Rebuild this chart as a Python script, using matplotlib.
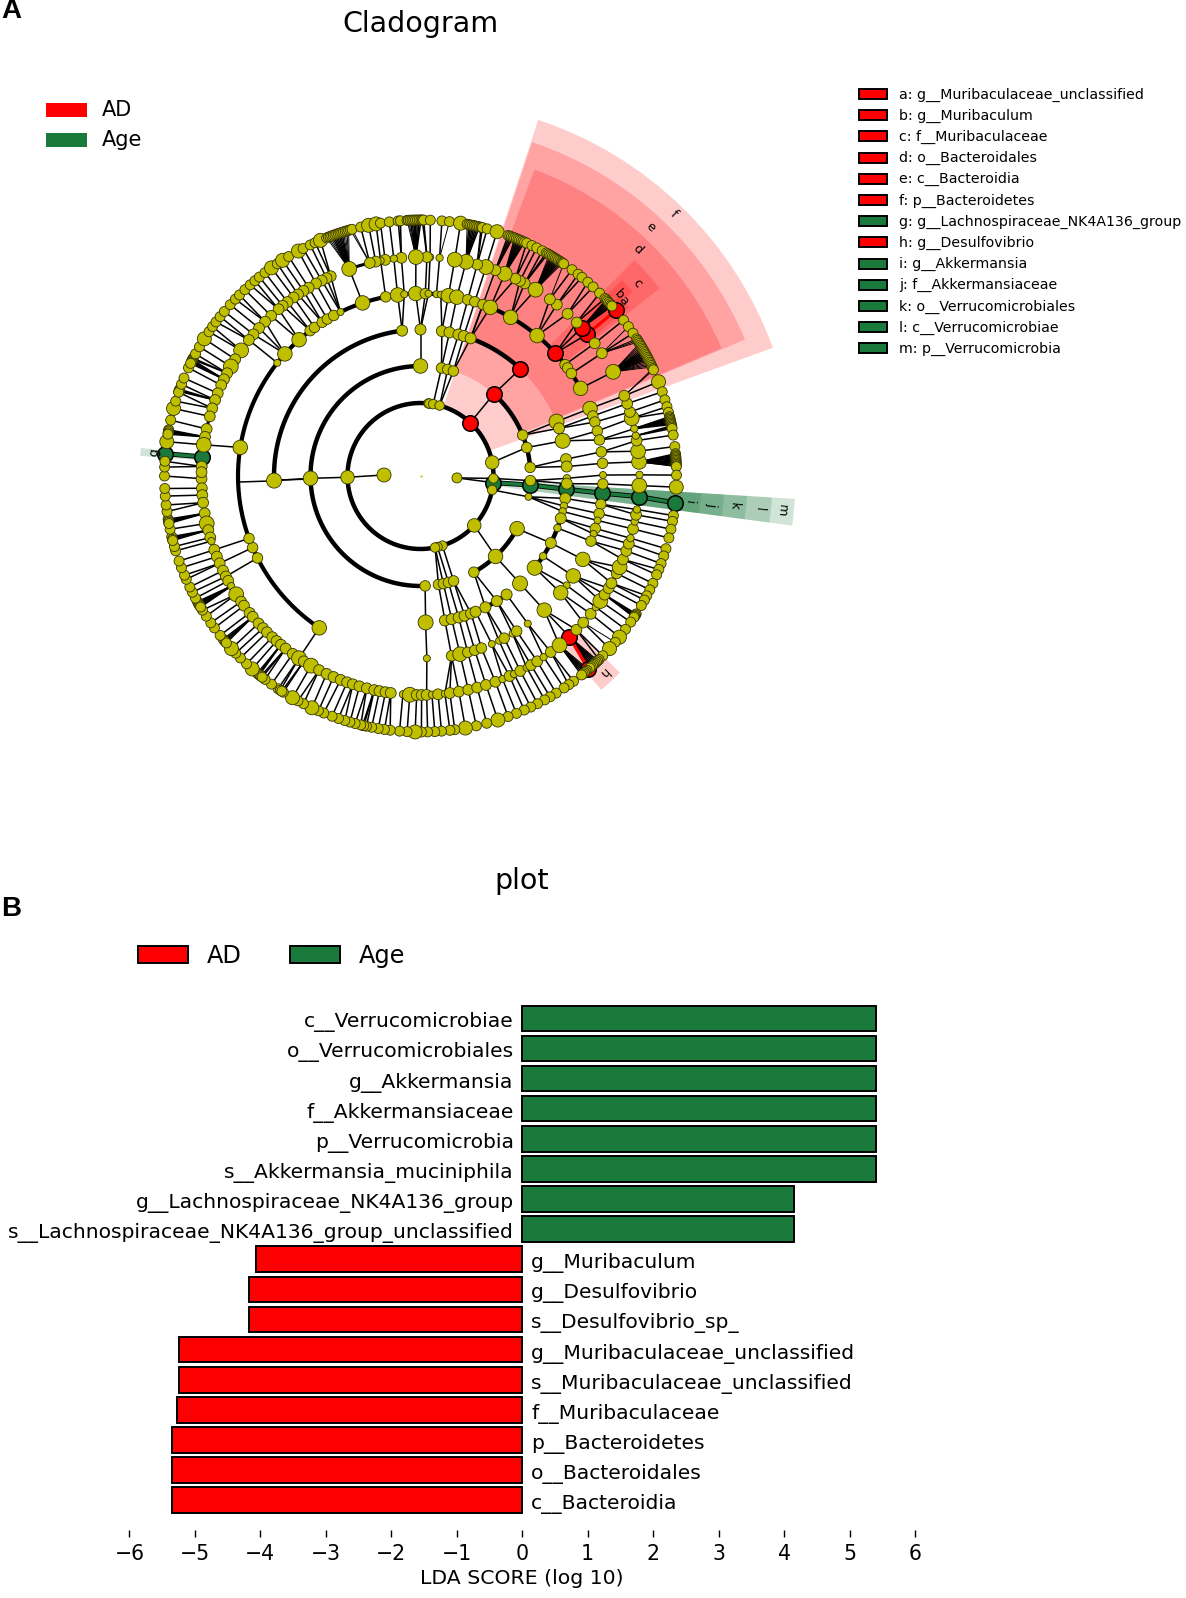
import numpy as np
import matplotlib
matplotlib.use("Agg")
import matplotlib.pyplot as plt
from matplotlib.patches import Rectangle

RED = "#ff0000"
GREEN = "#1a7a3c"
YELLOW = "#bfbf00"

# ---- cladogram data: node angles in degrees on each taxonomic ring ----
ring_radius = [36.5, 73, 110, 146.5, 182.5, 219, 256]

kingdom = [178.4, -3]
phylum = [181, 83.7, 83, 80, 74.8, 47, 10.7, -1.9, -5.2, -11, -42.6, 287.5, 283.5, 281.5]
klass = [90, 181.2, 272.4, 79, 75.7, 72.6, 48.2, 21.8, 15, 4.5, -2.4, -4.7, -10.9, -28.6, -47, -61,
         279.4, 282, 284.7, 287.5]
order = [181.8, 97.2, 90, 272, 81.6, 78.6, 75, 72.8, 70, 47, 21.8, 19, 13.9, 6.6, 3.7, -0.9, -3, -5.2,
         -8.8, -11.8, -14, -16.8, -20.8, -27.2, -33.2, -38.8, -47.2, 279.6, 282.3, 285.1, 287.5, 290.2,
         292.1, 296.3, 301.4, 306]
family = [236.3, 206.7, 203.1, 200, 171, 141.7, 138, 131.7, 127.2, 125.5, 122.6, 120.7, 118.4, 116,
          108.5, 101, 97.2, 95.1, 91.5, 88.5, 87.5, 85, 83.6, 81.2, 78.5, 75, 72.7, 70, 67.5, 60.4,
          50.3, 42.3, 37.6, 36.3, 34.2, 28.7, 21.7, 19.2, 17.2, 14.3, 11.4, 7.6, 4, 0.3, -2.5, -5.4,
          -8.9, -11.9, -14.1, -16.7, -18.5, -20.9, -27.2, -33.2, -36.8, -39.8, -47.3, 272, 279.8,
          282.5, 285, 287.3, 289.5, 293, 295.5, 297.3, 300.3, 301.8, 306]
genus = [180.7, 183.2, 185, 187, 189.8, 192.5, 194.3, 196.3, 197.3, 199.7, 201.6, 203.5, 205.6, 207.3,
         208.6, 210.2, 212.7, 215, 216.3, 218.7, 220, 222.3, 224, 225.5, 227.4, 228.9, 230.4, 232,
         234.3, 236.3, 237.8, 240, 242.4, 244.6, 246.6, 248.6, 250.4, 252, 253.8, 255.8, 257.8, 259.2,
         260.8, 262.2, 265.4, 267.2, 269, 270.3, 271.6, 273, 274.6, 276.4, 277.7, 280.1, 282.6, 285,
         287.4, 290, 292, 294, 295.3, 297.1, 299, 300.3, 302.2, 304.2, 306.5, 309.4, -47.2, 315.4, 318,
         321, 323.2, 325.2, 327.2, 329.2, 330.7, 333.6, 335.4, 337.6, 340, 342, 343.5, 346, 348, 349.8,
         351.2, -5.4, 357.5, 0.3, 3.7, 6.5, 9.3, 10.6, 12.5, 15.3, 17, 19.3, 21.5, 28.4, 34.1, 37.3,
         40.4, 42.6, 44.5, 47.8, 51.5, 53.8, 58.3, 61.6, 63, 64.3, 67.4, 70, 72.6, 75, 78, 81, 85, 87.5,
         88.3, 91.2, 95, 97, 99.3, 100.5, 101.8, 103.4, 109, 114.2, 115.4, 116.8, 118.5, 120.7, 122.3,
         124, 125.4, 127.4, 129, 130.4, 133, 135.2, 137.5, 139.7, 141.6, 145, 147.8, 150, 152, 153.8,
         155.5, 157.8, 159.7, 162, 164.2, 167.6, 169.7, 171.8, 175, 177.5, 179]
species = [175, 172.3, 170, 169.6, 169.9, 170.3, 170.6, 167.4, 164.7, 163, 160.7, 160.2, 160.5, 160.9,
           159, 157.5, 155, 153, 152.6, 152.9, 153.3, 153.6, 153.9, 151.5, 149.7, 147.6, 145.7, 144.3,
           143, 141.5, 140, 138, 136.3, 135, 133.3, 131.7, 130.3, 129, 127.4, 125.6, 124, 122.6, 121,
           118.5, 117.3, 115.5, 114.3, 113,
           111.5, 111.1, 110.7, 110.3, 109.9, 109.5, 109.1, 108.7, 108.3, 107.9, 107.5, 107.1, 106.7,
           106.3, 105.9, 105.5, 103.5, 101.7, 100, 99, 97, 95, 94.5, 93,
           92.7, 92.3, 91.9, 91.5, 91.1, 90.7, 90.3, 89.9, 89.6, 89.3,
           87.8, 85.2, 83.5, 81, 79.5, 79.1, 78.7, 78.3, 77.9, 77.5, 77.1, 76.7, 76.3, 76, 74.9, 72.6,
           70, 69.6, 69.2, 68.8, 68.4, 68, 67.6, 67.2, 66.8, 66.4, 66, 65.5, 64.2, 63, 61.6,
           60.6, 60.2, 59.8, 59.4, 59, 58.6, 58.2, 57.8, 57.4, 57, 56.6, 56.3, 56,
           53.7, 52, 50.9, 49.2, 47.6, 45.6, 43.9, 43.5, 43.1, 42.7, 42.3, 41.9, 41.6, 40.3, 37.5, 35.7,
           33.9, 32.4,
           32, 31.6, 31.2, 30.8, 30.4, 30, 29.6, 29.2, 28.8, 28.4, 28, 27.6, 27.2, 26.8, 26.4, 26, 25.6,
           25.2, 24.8, 24.5, 21.6, 19.2, 17.3, 15.7, 14.4,
           13.4, 13.1, 12.8, 12.5, 12.2, 11.9, 11.6, 11.3, 11, 10.7, 9.2, 6.6,
           5, 4.7, 4.4, 4.1, 3.8, 3.5, 3.2, 2.9, 2.6, 2.3, 2.1, 0.2, -2.5, -6, -8.9, -10.2, -12, -14,
           -16.5, -18.2, -20, -21.4, -22.7, -24.8, -26.4, -27.9, -29, -30.4, -32.6, -32.9, -33.2, -33.5,
           -34.8, -36.8, -39, -40.5, -42.4, -44.6, -45.8, -46.2, -46.6, -47, -47.4, -47.8, -48.2, -48.6,
           -49, -49.4, -49.8, -50.2, -50.6, -51, -53.3, -54.6, -55.9, -58, -59.6, -61, -62.8, -64.5,
           -66.1, -68, -70, -72.4, -75, -77.4, -79.9, -82.3, -83.4, -85.3, -86.8, -88.4, -89.8,
           268.8, 267, 265.3, 263.2, 261.9, 260.5, 259, 257.8, 256.9, 257.2, 256.5, 255.2, 254, 252.8,
           251.3, 249.8, 247.8, 246.5, 244.9, 242.8, 241.4, 240, 237.6, 236.2, 236.8, 237.2, 234.4,
           232.6, 230.7, 230.4, 231, 231.4, 231.8, 228.9, 227.2, 225.3, 223.8, 222.4, 220, 219.6, 220.3,
           220.7, 218.5, 216.4, 215, 213.2, 211.6, 209.9, 209.4, 209.7, 210.2, 210.5, 210.8, 208.5, 207,
           205.7, 203.8, 202.8, 201, 199.4, 197, 196, 194, 193.7, 194.3, 194.6, 192, 190.3, 189.7, 190,
           190.4, 190.7, 188, 186.5, 184.5, 182.8, 180, 178, 176.7]

# which nodes are larger or smaller than the usual size on each ring
kingdom_big = [178.4]
phylum_big = [181, 10.7, -42.6]
klass_big = [181.2, -28.6, -47, 90]
klass_small = [-10.9]
order_big = [181.8, -47.2, -38.8, 272, 13.9, 21.8]
order_small = [-0.9, -33.2, -20.8, -14, -11.8]
genus_big = [109, 67.4, 28.4, 91.2, 58.3, 145, 212.7, 309.4, 78, 81, 72.6, 219.7, 192.5, 236.3, 175,
             171.8, 15.3, 335.4, 325.2, 6.5, 357.5, 150, 267.2, 240, 3.7]
genus_small = [97, 100.5, 87.5, 85, 0.3, 351.2, 348, 299, 295.3, 292, 304.2, 343.5, 265.4, 197.3, 210.2,
               273, 276.4, 323.2, 10.6, 12.5, 281]
species_big = [118.5, 122.6, 101.7, 100, 113, 125.6, 172.3, 164.7, 147.6, 81, -2.5, -79.9, -72.4, -42.4,
               -39, 21.6, 244.9, 240, 228.9, 222.4, 222.4, 268.8, 253, 72.6]
family_big = [171, 108.5, 236.3, 131.7, 138, 91.5, 97.2, 28.7, 67.5, 60.4, 50.3, 21.7, -27.2, -39.8, -47.3,
              -33.2, 78.5, 81.2, 282.5]
family_small = [141.7, 116, 95.1, 85, 83.6, 87.5, 0.3, 272, -36.8, 293, 295.5, -18.5, -14.1, 306, 300.3]
# family nodes that sit on a long genus arc and send out one branch only
one_branch = [171, 236.3, 272, 200, 203.1, 206.7, 141.7, 108.5, 101]

# thick arcs along the rings, (ring index, from, to)
ring_arcs = [(1, 0, 360), (2, 90, 272.4), (2, 15, 48.2), (2, 4.5, 15), (2, -61, -28.6), (2, 72.6, 79),
             (3, 97.2, 181.8), (3, 47, 70), (3, -38.8, -8.8), (3, 292.1, 306), (3, 13.9, 21.8), (3, 3.7, 6.6),
             (4, 101, 236.3), (4, 28.7, 67.5), (4, 88.5, 97.2), (4, 83.6, 87.5),
             (5, 99.3, 109), (5, 146, 197.5), (5, 212, 262.5), (5, 265, 298), (5, -50, -45), (5, -34, -26)]
# branch stems with no node at the arc end, (inner ring index, angle)
ring_stems = [(3, 181.9), (2, 181.6), (3, 70)]

red_nodes = {1: [47], 2: [48.2], 3: [47], 4: [42.3], 5: [40.4, 42.6, -47.2], 6: [40.3, -49]}
green_nodes = {1: [-5.2], 2: [-4.7], 3: [-5.2], 4: [-5.4], 5: [-5.4, 175], 6: [-6, 175]}

# highlighted sectors: letter, from, to, inner radius, outer radius, label radius, label angle
sector_letter = ["f", "e", "d", "c", "b", "a", "h", "g", "m", "l", "k", "j", "i"]
sector_from = [20.0, 22.8, 23.0, 38.1, 41.0, 38.9, -49.8, 174.3, -7.6, -7.6, -7.6, -7.6, -7.6]
sector_to = [71.7, 71.5, 69.6, 45.3, 44.2, 42.0, -44.6, 175.9, -3.5, -3.5, -3.5, -3.5, -3.5]
sector_in = [75, 110, 146, 182, 219, 219, 219, 219, 75, 110, 146, 182, 219]
sector_out = [375, 352, 327, 304, 281, 268, 280, 281, 375, 352, 327, 304, 281]
label_r = [364, 339, 314, 290, 269, 268.6, 268, 267, 363, 340, 315, 292, 270]
label_a = [46, 47.2, 46.2, 41.7, 42.5, 40.8, -47.1, 175, -5.5, -5.5, -5.5, -5.5, -5.5]
sector_kind = ["AD"] * 7 + ["Age"] * 6

clade_legend = ["a: g__Muribaculaceae_unclassified", "b: g__Muribaculum", "c: f__Muribaculaceae",
                "d: o__Bacteroidales", "e: c__Bacteroidia", "f: p__Bacteroidetes",
                "g: g__Lachnospiraceae_NK4A136_group", "h: g__Desulfovibrio", "i: g__Akkermansia",
                "j: f__Akkermansiaceae", "k: o__Verrucomicrobiales", "l: c__Verrucomicrobiae",
                "m: p__Verrucomicrobia"]
clade_legend_kind = ["AD"] * 6 + ["Age", "AD"] + ["Age"] * 5

# ---- LDA bars, top to bottom ----
taxa = ["c__Verrucomicrobiae", "o__Verrucomicrobiales", "g__Akkermansia", "f__Akkermansiaceae",
        "p__Verrucomicrobia", "s__Akkermansia_muciniphila", "g__Lachnospiraceae_NK4A136_group",
        "s__Lachnospiraceae_NK4A136_group_unclassified", "g__Muribaculum", "g__Desulfovibrio",
        "s__Desulfovibrio_sp_", "g__Muribaculaceae_unclassified", "s__Muribaculaceae_unclassified",
        "f__Muribaculaceae", "p__Bacteroidetes", "o__Bacteroidales", "c__Bacteroidia"]
lda = [5.41, 5.41, 5.41, 5.41, 5.41, 5.41, 4.15, 4.15, -4.07, -4.18, -4.18, -5.25, -5.25, -5.28, -5.35,
       -5.35, -5.35]
xticks = [-6, -5, -4, -3, -2, -1, 0, 1, 2, 3, 4, 5, 6]

W, H = 1186, 1598
fig = plt.figure(figsize=(W / 100, H / 100), dpi=100)
kind_color = {"AD": RED, "Age": GREEN}


def nearest(a, pool):
    pool = np.asarray(pool, dtype=float)
    d = np.abs((pool - a + 180) % 360 - 180)
    i = d.argmin()
    return pool[i], d[i]


# cladogram axes, polar, centred on the middle of the tree
cx, cy, rmax = 420.5, 476, 400
ax = fig.add_axes([(cx - rmax) / W, (H - cy - rmax) / H, 2 * rmax / W, 2 * rmax / H], projection="polar")
ax.set_rlim(0, rmax)
ax.set_axis_off()

for i in range(len(sector_letter)):
    c = kind_color[sector_kind[i]]
    mid, wid = (sector_from[i] + sector_to[i]) / 2, sector_to[i] - sector_from[i]
    ax.bar(np.radians(mid), sector_out[i] - sector_in[i], width=np.radians(wid), bottom=sector_in[i],
           color=c, alpha=0.2, linewidth=0, zorder=1)
    ax.text(np.radians(label_a[i]), label_r[i], sector_letter[i], rotation=label_a[i] - 90, fontsize=9,
            ha="center", va="center", rotation_mode="anchor", zorder=8)

rings = [kingdom, phylum, klass, order, family, genus, species]
arc_width = {1: 3.2, 2: 3.2, 3: 3.2, 4: 3.0, 5: 2.2}
limits = {1: 9, 2: 9, 3: 9, 4: 9, 5: 16, 6: 30}

# thin links between rings
for k in range(1, 7):
    for a in rings[k]:
        p, d = nearest(a, rings[k - 1])
        if ring_radius[k] * np.radians(d) > limits[k]:
            continue
        if k == 5 and p in one_branch and nearest(p, rings[5])[0] != a:
            continue
        lw = 1.1 if k < 6 or d < 1.5 else 0.7
        ax.plot(np.radians([p, a]), [ring_radius[k - 1], ring_radius[k]], color="k", lw=lw, zorder=2,
                solid_capstyle="butt")

for k, a0, a1 in ring_arcs:
    th = np.radians(np.linspace(a0, a1, 200))
    ax.plot(th, np.full(th.shape, ring_radius[k]), color="k", lw=arc_width[k], zorder=3, solid_capstyle="round")

for k, a in ring_stems:
    ax.plot(np.radians([a, a]), [ring_radius[k], ring_radius[k + 1]], color="k", lw=1.1, zorder=2)

# coloured chains sit under the yellow nodes
green_chain = [-5.2, -4.7, -5.2, -5.4, -5.4, -6]
for lw, c in ((3.6, "k"), (2.4, GREEN)):
    ax.plot(np.radians(green_chain), ring_radius[1:], color=c, lw=lw, zorder=4)
    ax.plot(np.radians([175, 175]), ring_radius[5:], color=c, lw=lw, zorder=4)
ax.plot(np.radians([40.4, 40.3]), ring_radius[5:], color=RED, lw=2.4, zorder=4)
ax.plot(np.radians([-47.2, -49]), ring_radius[5:], color=RED, lw=2.4, zorder=4)


def diam(k, a):
    # usual marker diameter per ring, in pixels
    base = {0: 10, 1: 9.5, 2: 10.5, 3: 11, 4: 10.5, 5: 10.8, 6: 10}[k]
    big = {0: kingdom_big, 1: phylum_big, 2: klass_big, 3: order_big, 4: family_big, 5: genus_big,
           6: species_big}.get(k, [])
    small = {2: klass_small, 3: order_small, 4: family_small, 5: genus_small}.get(k, [])
    if a in big:
        return base + 4
    if a in small:
        return base - 3.5
    return base


for k, nodes in enumerate(rings):
    coloured = red_nodes.get(k, []) + green_nodes.get(k, [])
    keep = [a for a in nodes if a not in coloured]
    sizes = [(diam(k, a) * 0.72) ** 2 for a in keep]
    ax.scatter(np.radians(keep), np.full(len(keep), ring_radius[k]), s=sizes, c=YELLOW, edgecolors="#333300",
               linewidths=0.6, zorder=6, clip_on=False)
    for nodes_c, c in ((red_nodes.get(k, []), RED), (green_nodes.get(k, []), GREEN)):
        if nodes_c:
            ax.scatter(np.radians(nodes_c), np.full(len(nodes_c), ring_radius[k]), s=(15.5 * 0.72) ** 2, c=c,
                       edgecolors="k", linewidths=1.1, zorder=5)
ax.scatter([0], [0], s=2.5, c=YELLOW, linewidths=0, zorder=6)

# bar panel: the tick row stands clear below the last bar
bar_top, bar_bot = 1003, 1530
bx = fig.add_axes([129.4 / W, (H - bar_bot) / H, 785.6 / W, (bar_bot - bar_top) / H])
pos = np.arange(len(taxa))
bx.barh(pos, lda, height=0.85, color=[GREEN if v > 0 else RED for v in lda], edgecolor="k", linewidth=1.4)
for y, name, v in zip(pos, taxa, lda):
    if v > 0:
        bx.text(-0.13, y + 0.13, name, ha="right", va="center", fontsize=14.6)
    else:
        bx.text(0.14, y + 0.13, name, ha="left", va="center", fontsize=14.6)
bx.set_xlim(-6, 6)
bx.set_ylim(16.99, -0.51)
bx.set_yticks([])
bx.set_xticks(xticks)
bx.tick_params(axis="x", labelsize=14.8, length=5, width=1, pad=5)
bx.set_xlabel("LDA SCORE (log 10)", fontsize=14.7, labelpad=4)
for s in bx.spines.values():
    s.set_visible(False)
bx.patch.set_alpha(0)

# overlay in pixel coordinates for titles, panel letters and legends
top = fig.add_axes([0, 0, 1, 1], facecolor="none")
top.set_xlim(0, W)
top.set_ylim(H, 0)
top.set_axis_off()
top.text(420, 24, "Cladogram", fontsize=20.5, ha="center", va="center")
top.text(522, 881, "plot", fontsize=20.5, ha="center", va="center")
top.text(1, 11, "A", fontsize=20, fontweight="bold", family="Liberation Sans", ha="left", va="center")
top.text(1, 909, "B", fontsize=20, fontweight="bold", family="Liberation Sans", ha="left", va="center")

for y, name in ((110, "AD"), (140, "Age")):
    top.add_patch(Rectangle((46, y - 7), 41, 14, facecolor=kind_color[name], edgecolor="none"))
    top.text(102, y, name, fontsize=15, ha="left", va="center")

for x0, tx, name in ((138, 207, "AD"), (290, 359, "Age")):
    top.add_patch(Rectangle((x0, 945.5), 50, 17.5, facecolor=kind_color[name], edgecolor="k", linewidth=1.4))
    top.text(tx, 956, name, fontsize=17.3, ha="left", va="center")

for i, (name, kind) in enumerate(zip(clade_legend, clade_legend_kind)):
    y = 94 + 21.2 * i
    top.add_patch(Rectangle((858.5, y - 5), 28, 10, facecolor=kind_color[kind], edgecolor="k", linewidth=1.4))
    top.text(899, y + 0.5, name, fontsize=10.15, ha="left", va="center")

fig.savefig("out.png", dpi=100)
